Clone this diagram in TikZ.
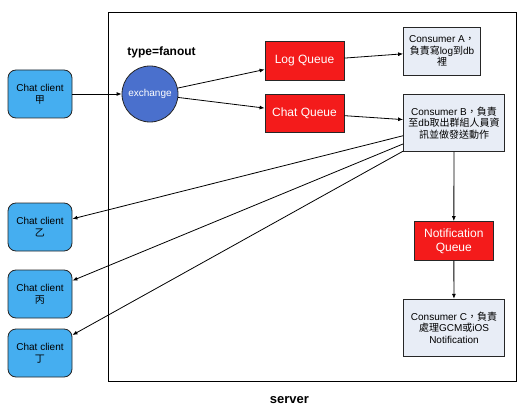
\documentclass[tikz,border=0pt]{standalone}
\usepackage{fontspec}
\setmainfont{Liberation Sans}
\newfontfamily\cjk{Noto Sans CJK TC}
\usetikzlibrary{arrows.meta}

\definecolor{clientblue}{HTML}{45AEF0}
\definecolor{exchangeblue}{HTML}{4A70CD}
\definecolor{queuered}{HTML}{F41B1B}
\definecolor{consumergray}{HTML}{E8EDF6}

\begin{document}
\begin{tikzpicture}[
                x=1pt, y=-1pt,
                >={Latex[length=5pt,width=4pt]},
                line width=0.8pt,
                every node/.style={font=\fontsize{10}{11.5}\selectfont},
                client/.style={draw=black!85, fill=clientblue, rounded corners=8pt, minimum width=64pt, minimum height=48pt, inner sep=0pt, align=center, font=\fontsize{10}{12}\selectfont},
                exchange/.style={circle, draw=black!85, fill=exchangeblue, text=white, minimum size=56pt, inner sep=0pt},
                queue/.style={draw=black!85, fill=queuered, text=white, minimum width=79pt, minimum height=39pt, inner sep=0pt, align=center, font=\fontsize{12}{14}\selectfont},
                consumer/.style={draw=black!85, fill=consumergray, minimum width=101pt, minimum height=57pt, inner sep=0pt, align=center},
            ]
                \useasboundingbox (0,0) rectangle (527,414);

                % Draw the server frame
                \draw[black] (108,12) rectangle (516,381);
                \node[font=\fontsize{13}{15}\selectfont\bfseries] (server) at (289.5,400) {server};
                \node[font=\fontsize{12}{14}\selectfont\bfseries] (type) at (161.5,52) {type=fanout};

                % Draw the chat client nodes
                \foreach \name / \y / \who in {jia/94/甲, yi/227/乙, bing/294/丙, ding/353/丁}
                    \node[client] (\name) at (40,\y) {Chat client\\{\cjk \who}};

                % Draw the exchange and the queues
                \node[exchange] (ex) at (150,94) {exchange};
                \node[queue] (logq) at (304.5,61) {Log Queue};
                \node[queue, minimum height=38pt] (chatq) at (304.5,113) {Chat Queue};
                \node[queue] (notiq) at (453.8,241) {Notification\\Queue};

                % Draw the consumers
                \node[consumer, minimum width=77pt, minimum height=48pt] (conA) at (442,51)
                    {Consumer A{\cjk ，}\\{\cjk 負責寫}log{\cjk 到}db\\{\cjk 裡}};
                \node[consumer] (conB) at (454,123)
                    {Consumer B{\cjk ，負責}\\{\cjk 至}db{\cjk 取出群組人員資}\\{\cjk 訊並做發送動作}};
                \node[consumer] (conC) at (454,327.7)
                    {Consumer C{\cjk ，負責}\\{\cjk 處理}GCM{\cjk 或}iOS\\Notification};

                % Connect the nodes
                \draw[->] (jia) -- (ex);
                \foreach \dest in {logq, chatq}
                    \draw[->] (ex) -- (\dest);
                \draw[->] (logq) -- (conA);
                \draw[->] (chatq) -- (conB);
                \draw[->] (conB) -- (notiq);
                \draw[->] (notiq) -- (conC);
                \foreach \dest in {yi, bing, ding}
                    \draw[->] (conB) -- (\dest);
            \end{tikzpicture}
\end{document}
